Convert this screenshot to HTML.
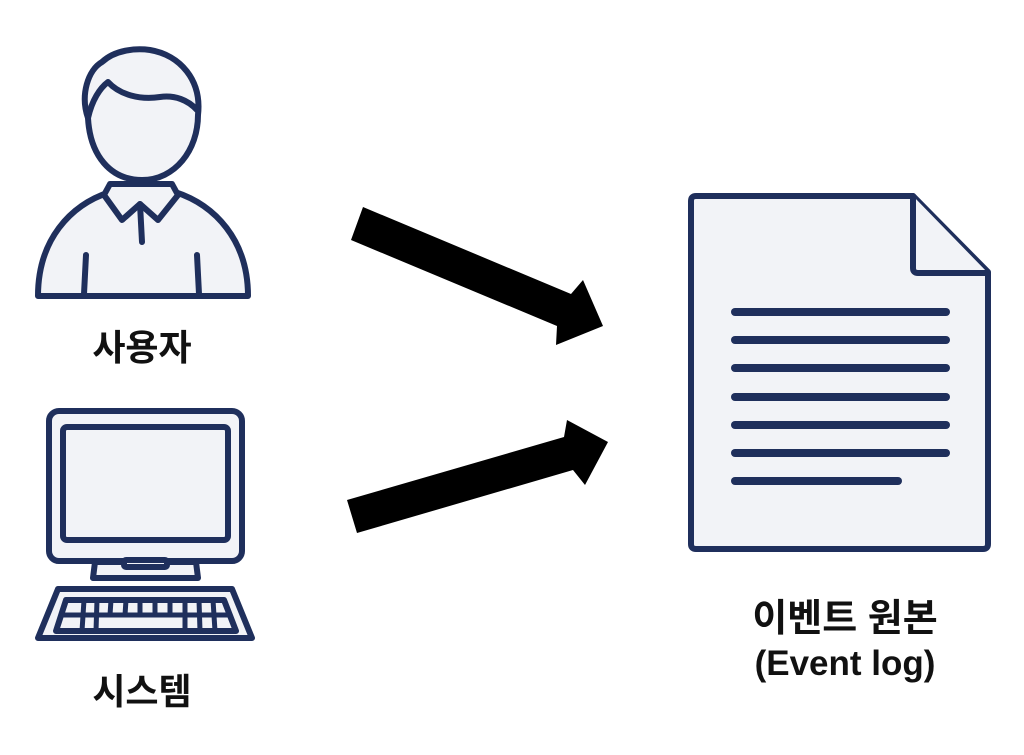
<!DOCTYPE html>
<html><head><meta charset="utf-8"><style>
html,body{margin:0;padding:0;background:#fff;}
svg{display:block;}
text{font-family:"Liberation Sans","Noto Sans CJK KR","NanumGothic",sans-serif;font-weight:bold;fill:#111;}
</style></head><body>
<svg width="1024" height="755" viewBox="0 0 1024 755" xmlns="http://www.w3.org/2000/svg">
<rect width="1024" height="755" fill="#fff"/>
<g stroke="#1f2f5c" stroke-width="6" fill="#f2f3f7" stroke-linejoin="round" stroke-linecap="round">
  <!-- person body -->
  <path d="M38,296 C38,240 70,205 110,192 L175,192 C215,205 248,240 248,296 Z"/>
  <line x1="86" y1="255" x2="84" y2="294"/>
  <line x1="197" y1="255" x2="199" y2="294"/>
  <!-- collar -->
  <path d="M110,184 L104,195 L122,220 L140,204 L158,220 L178,195 L172,184 Z"/>
  <line x1="140" y1="204" x2="142" y2="242"/>
  <!-- head -->
  <path d="M88,118 C80,95 88,70 102,62 C115,50 135,48 150,50 C180,55 202,80 198,115 C198,150 175,180 142,180 C110,180 90,155 88,118 Z"/>
  <path d="M88,118 C92,100 100,88 108,82 C120,95 140,100 160,97 C175,95 188,100 197,110" fill="none"/>
  <!-- monitor -->
  <rect x="49" y="411" width="193" height="150" rx="10"/>
  <rect x="63" y="427" width="165" height="113" rx="4"/>
  <path d="M95,562 L93,578 L198,578 L196,562 Z"/>
  <rect x="124" y="560" width="43" height="7" rx="2"/>
  <!-- keyboard -->
  <path d="M58,589 L232,589 L252,638 L38,638 Z"/>
  <path d="M66,600 L224,600 L236,631 L56,631 Z"/>
  <g stroke-width="5">
    <line x1="62" y1="615" x2="230" y2="615"/>
    <line x1="84" y1="600" x2="82" y2="631"/>
    <line x1="97" y1="600" x2="96" y2="631"/>
    <line x1="111" y1="600" x2="110" y2="615"/>
    <line x1="126" y1="600" x2="125" y2="615"/>
    <line x1="140" y1="600" x2="140" y2="615"/>
    <line x1="155" y1="600" x2="155" y2="615"/>
    <line x1="170" y1="600" x2="170" y2="615"/>
    <line x1="185" y1="600" x2="185" y2="631"/>
    <line x1="199" y1="600" x2="200" y2="631"/>
    <line x1="213" y1="600" x2="215" y2="631"/>
  </g>
  <!-- document -->
  <path d="M696,196 L913,196 L988,272 L988,544 Q988,549 983,549 L696,549 Q691,549 691,544 L691,201 Q691,196 696,196 Z"/>
  <path d="M913,196 L913,268 Q913,273 918,273 L988,273"/>
  <g stroke-width="8">
    <line x1="735" y1="312" x2="946" y2="312"/>
    <line x1="735" y1="340" x2="946" y2="340"/>
    <line x1="735" y1="368" x2="946" y2="368"/>
    <line x1="735" y1="397" x2="946" y2="397"/>
    <line x1="735" y1="425" x2="946" y2="425"/>
    <line x1="735" y1="453" x2="946" y2="453"/>
    <line x1="735" y1="481" x2="898" y2="481"/>
  </g>
</g>
<!-- arrows -->
<polygon points="363,207 571,294 583,280 603,326 556,345 557,326 351,240" fill="#000"/>
<polygon points="347,500 564,437 567,420 608,442 585,485 573,470 357,533" fill="#000"/>
<!-- labels -->
<text x="142" y="360" font-size="36" text-anchor="middle">사용자</text>
<text x="142" y="704" font-size="36" text-anchor="middle">시스템</text>
<text x="845" y="631" font-size="38" text-anchor="middle">이벤트 원본</text>
<text x="845" y="675" font-size="35" text-anchor="middle">(Event log)</text>
</svg>
</body></html>
